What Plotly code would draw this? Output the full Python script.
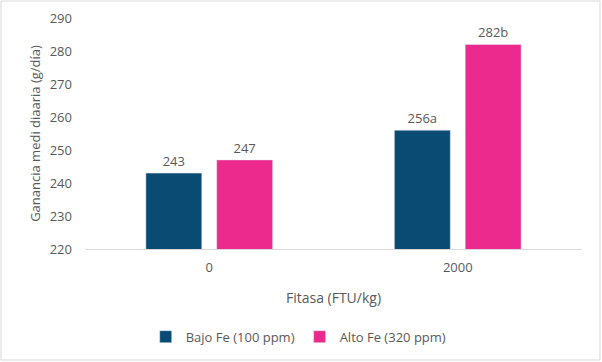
import plotly.graph_objects as go

categories = ["0", "2000"]
bajo_values = [243, 256]
alto_values = [247, 282]
bajo_labels = ["243", "256a"]
alto_labels = ["247", "282b"]
series_names = ["Bajo Fe (100 ppm)", "Alto Fe (320 ppm)"]
y_ticks = [220, 230, 240, 250, 260, 270, 280, 290]

font_family = "Open Sans, Lato, sans-serif"
gray = "#595959"

fig = go.Figure()
fig.add_trace(go.Bar(
    x=categories, y=bajo_values, name=series_names[0],
    marker=dict(color="#0A4B73"),
    text=bajo_labels, textposition="outside", cliponaxis=False,
    textfont=dict(size=13, color=gray, family=font_family),
))
fig.add_trace(go.Bar(
    x=categories, y=alto_values, name=series_names[1],
    marker=dict(color="#EC2A8E"),
    text=alto_labels, textposition="outside", cliponaxis=False,
    textfont=dict(size=13, color=gray, family=font_family),
))

fig.update_layout(
    width=602, height=362,
    margin=dict(l=85, r=20, t=18, b=113, autoexpand=False),
    paper_bgcolor="white", plot_bgcolor="white",
    barmode="group", bargap=0.43, bargroupgap=0.21,
    font=dict(family=font_family, size=13, color=gray),
    showlegend=True,
    legend=dict(orientation="h", x=0.43, xanchor="center", y=-0.315, yanchor="top",
                font=dict(size=13, color=gray), itemwidth=30, traceorder="normal"),
    xaxis=dict(
        type="category", showgrid=False, showline=True, linecolor="#D9D9D9", linewidth=1,
        ticks="", tickfont=dict(size=13, color=gray), automargin=False, ticklabelstandoff=6,
        title=dict(text="Fitasa (FTU/kg)", font=dict(size=14, color=gray), standoff=18),
    ),
    yaxis=dict(
        range=[220, 290], tickvals=y_ticks, showgrid=False, showline=False, zeroline=False,
        ticks="", ticklen=0, tickfont=dict(size=13, color=gray), automargin=False,
        ticklabelstandoff=12,
        title=dict(text="Ganancia medi diaaria (g/día)", font=dict(size=13, color=gray), standoff=6),
    ),
    shapes=[dict(type="rect", xref="paper", yref="paper",
                 x0=(1 - 85) / 497, x1=(600 - 85) / 497,
                 y0=(249 - 360) / 231, y1=(249 - 1) / 231,
                 line=dict(color="#D9D9D9", width=1), fillcolor="rgba(0,0,0,0)")],
)

fig.write_html("out.html", config={"displayModeBar": False},
               post_script="document.body.style.margin='0';document.body.style.overflow='hidden';")
